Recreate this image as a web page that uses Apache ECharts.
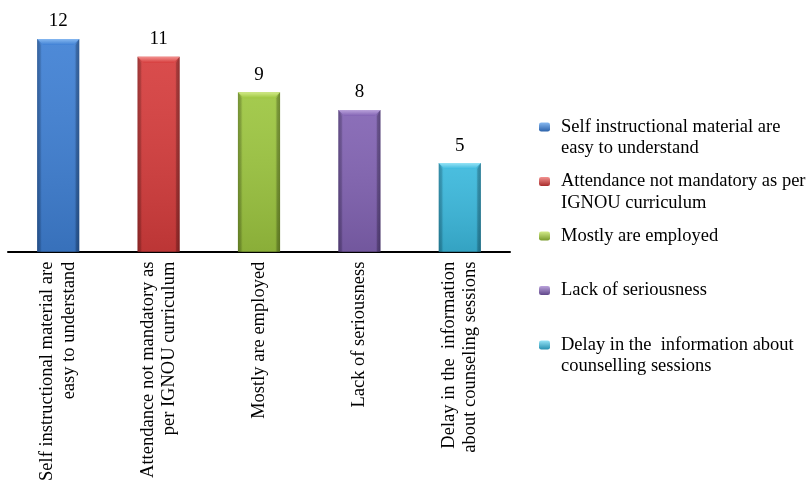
<!DOCTYPE html>
<html>
<head>
<meta charset="utf-8">
<script src="https://cdn.jsdelivr.net/npm/echarts@6/dist/echarts.min.js"></script>
<style>
  html, body { margin: 0; padding: 0; background: #fff; }
  #chart { width: 809px; height: 484px; }
</style>
</head>
<body>
<div id="chart"></div>
<script>
// Reasons given by learners, with the number of responses for each
const categories = [
  'Self instructional material are\neasy to understand',
  'Attendance not mandatory as\nper IGNOU curriculum',
  'Mostly are employed',
  'Lack of seriousness',
  'Delay in the  information\nabout counseling sessions'
];
const seriesNames = [
  'Self instructional material are easy to understand',
  'Attendance not mandatory as per IGNOU curriculum',
  'Mostly are employed',
  'Lack of seriousness',
  'Delay in the  information about counselling sessions'
];
const legendLines = [
  ['Self instructional material are', 'easy to understand'],
  ['Attendance not mandatory as per', 'IGNOU curriculum'],
  ['Mostly are employed'],
  ['Lack of seriousness'],
  ['Delay in the  information about', 'counselling sessions']
];
const values = [12, 11, 9, 8, 5];

// Bevelled bar shades: [highlight, body, shadow]
const shades = [
  ['#86b8f0', '#3f80d4', '#2c62aa'],
  ['#f39290', '#d63d3d', '#a82c2c'],
  ['#d2ea88', '#9dc640', '#789a2b'],
  ['#bba3dc', '#8263b3', '#5f4689'],
  ['#95e3f6', '#3bb9dd', '#2790b0']
];

const FONT = '"Liberation Serif", "Times New Roman", serif';

function bevelBar(idx) {
  const [hi, mid, lo] = shades[idx];
  return function (params, api) {
    const cat = api.value(0);
    const val = api.value(1);
    const top = api.coord([cat, val]);
    const base = api.coord([cat, 0]);
    const w = api.size([1, 0])[0] * 0.42;
    const l = top[0] - w / 2, r = top[0] + w / 2;
    const t = top[1], b = base[1];
    const bv = 6;
    const body = new echarts.graphic.LinearGradient(0, 0, 1, 0, [
      { offset: 0, color: lo },
      { offset: 0.12, color: mid },
      { offset: 0.88, color: mid },
      { offset: 1, color: lo }
    ]);
    return {
      type: 'group',
      children: [
        {
          type: 'rect',
          shape: { x: l, y: t, width: w, height: b - t },
          style: { fill: body },
          textContent: {
            style: {
              text: String(val),
              fontFamily: FONT,
              fontSize: 19,
              fill: '#000'
            }
          },
          textConfig: { position: 'top', distance: 8 }
        },
        {
          type: 'rect',
          shape: { x: l, y: t, width: w, height: b - t },
          style: {
            fill: new echarts.graphic.LinearGradient(0, 0, 0, 1, [
              { offset: 0, color: 'rgba(255,255,255,0.08)' },
              { offset: 1, color: 'rgba(0,0,0,0.12)' }
            ])
          },
          silent: true
        },
        {
          type: 'polygon',
          shape: { points: [[l, t], [r, t], [r - bv, t + bv], [l + bv, t + bv]] },
          style: {
            fill: new echarts.graphic.LinearGradient(0, 0, 0, 1, [
              { offset: 0, color: hi },
              { offset: 1, color: mid }
            ])
          },
          silent: true
        },
        {
          type: 'polygon',
          shape: { points: [[l, t], [l + bv * 0.6, t + bv], [l + bv * 0.6, b], [l, b]] },
          style: { fill: 'rgba(0,0,0,0.10)' },
          silent: true
        },
        {
          type: 'polygon',
          shape: { points: [[r, t], [r - bv * 0.6, t + bv], [r - bv * 0.6, b], [r, b]] },
          style: { fill: 'rgba(0,0,0,0.16)' },
          silent: true
        }
      ]
    };
  };
}

const series = values.map((v, i) => ({
  name: seriesNames[i],
  type: 'custom',
  renderItem: bevelBar(i),
  encode: { x: 0, y: 1 },
  itemStyle: {
    color: new echarts.graphic.LinearGradient(0, 0, 0, 1, [
      { offset: 0, color: shades[i][0] },
      { offset: 1, color: shades[i][2] }
    ])
  },
  data: [[i, v]]
}));

const chart = echarts.init(document.getElementById('chart'), null, { renderer: 'canvas' });
chart.setOption({
  animation: false,
  backgroundColor: '#fff',
  grid: { left: 8, right: 299, top: 39, bottom: 232, containLabel: false },
  xAxis: {
    type: 'category',
    data: categories,
    axisLine: { show: true, lineStyle: { color: '#000', width: 2 } },
    axisTick: { show: false },
    axisLabel: {
      interval: 0,
      rotate: 90,
      margin: 10,
      color: '#000',
      fontFamily: FONT,
      fontSize: 18.5,
      lineHeight: 21.5
    },
    splitLine: { show: false }
  },
  yAxis: {
    type: 'value',
    min: 0,
    max: 12,
    show: false
  },
  legend: {
    orient: 'vertical',
    left: 539,
    top: 94.75,
    padding: 0,
    itemGap: -10,
    itemWidth: 11,
    itemHeight: 9,
    data: seriesNames,
    formatter: function (name) {
      const lines = legendLines[seriesNames.indexOf(name)];
      return '\n' + lines[0] + '\n' + (lines[1] || '');
    },
    textStyle: {
      color: '#000',
      fontFamily: FONT,
      fontSize: 18.5,
      lineHeight: 21.5,
      padding: [0, 0, 0, 6]
    }
  },
  series: series
});
</script>
</body>
</html>
